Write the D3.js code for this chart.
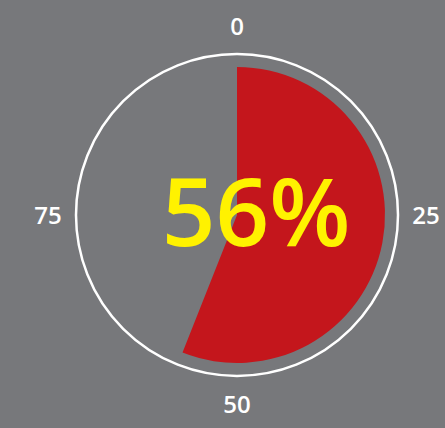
<!DOCTYPE html>
<html>
<head>
<meta charset="utf-8">
<script src="https://cdn.jsdelivr.net/npm/d3@7"></script>
<style>
  body { margin: 0; background: #77787b; }
  svg { display: block; }
</style>
</head>
<body>
<svg id="main" width="445" height="428"></svg>
<script>
var value = 56;
var maxValue = 100;
var tickValues = [0, 25, 50, 75];
var tickLabels = ["0", "25", "50", "75"];

var width = 445;
var height = 428;
var cx = 237, cy = 215;
var ringR = 161;
var sliceR = 148;
var labelR = 189;

var svg = d3.select("#main");

svg.append("rect")
    .attr("width", width)
    .attr("height", height)
    .attr("fill", "#77787b");

var g = svg.append("g")
    .attr("transform", "translate(" + cx + "," + cy + ")");

// value -> angle
var angle = d3.scaleLinear().domain([0, maxValue]).range([0, 2 * Math.PI]);

var arc = d3.arc()
    .innerRadius(0)
    .outerRadius(sliceR)
    .startAngle(angle(0))
    .endAngle(angle(value));

g.append("path")
    .attr("d", arc())
    .attr("fill", "#c4161c");

g.append("circle")
    .attr("r", ringR)
    .attr("fill", "none")
    .attr("stroke", "#ffffff")
    .attr("stroke-width", 2.5);

g.selectAll(".tick")
    .data(tickValues)
    .enter().append("text")
    .attr("class", "tick")
    .attr("x", function(d) { return labelR * Math.sin(angle(d)); })
    .attr("y", function(d) { return -labelR * Math.cos(angle(d)); })
    .attr("dy", "0.36em")
    .attr("text-anchor", "middle")
    .attr("font-family", "Open Sans, sans-serif")
    .attr("font-weight", 600)
    .attr("font-size", "24px")
    .attr("fill", "#ffffff")
    .text(function(d, i) { return tickLabels[i]; });

g.append("text")
    .attr("x", 19)
    .attr("y", 31)
    .attr("text-anchor", "middle")
    .attr("font-family", "Open Sans, sans-serif")
    .attr("font-weight", 600)
    .attr("font-size", "94px")
    .attr("fill", "#fff200")
    .text(value + "%");
</script>
</body>
</html>
